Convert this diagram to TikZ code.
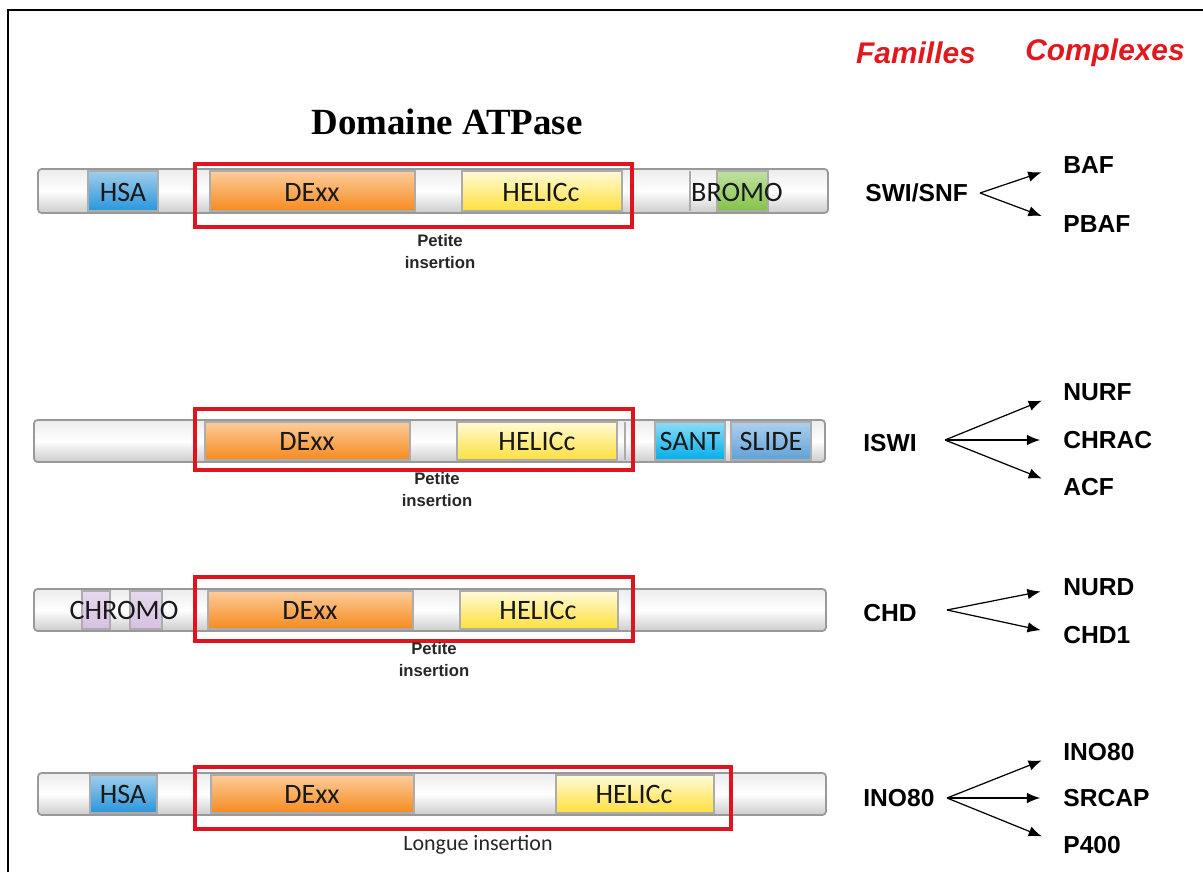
\documentclass[tikz,border=0pt]{standalone}
\usepackage{tikz}
\usepackage{fontspec}
\setmainfont{Liberation Sans}
\newfontfamily\domfont{Carlito}
\newfontfamily\titlefont{Liberation Serif}
\definecolor{boxred}{RGB}{222, 20, 30}
\definecolor{famred}{RGB}{225, 25, 30}
\definecolor{dexxorange}{RGB}{246, 138, 30}
\definecolor{dexxlight}{RGB}{252, 205, 155}
\definecolor{helicyellow}{RGB}{255, 224, 60}
\definecolor{heliclight}{RGB}{255, 250, 215}
\definecolor{hsablue}{RGB}{40, 150, 220}
\definecolor{hsalight}{RGB}{160, 205, 235}
\definecolor{bromogreen}{RGB}{130, 195, 70}
\definecolor{santcyan}{RGB}{0, 175, 235}
\definecolor{slideblue}{RGB}{95, 160, 215}
\definecolor{chromopurple}{RGB}{214, 192, 226}
\usetikzlibrary{arrows.meta,positioning}

\begin{document}
\begin{tikzpicture}[x=0.02cm, y=-0.02cm,
    bar/.style={draw=gray!80, line width=1pt, rounded corners=2pt, top color=gray!15, bottom color=gray!40, middle color=white},
    seg/.style={draw=gray!65, line width=0.6pt},
    dom/.style={font=\domfont\fontsize{16}{16}\selectfont, text=black!90, inner sep=0pt},
    redbox/.style={draw=boxred, line width=2.3pt},
    ins/.style={font=\bfseries\fontsize{9.5}{12.5}\selectfont, align=center, text=black!85},
    head/.style={font=\bfseries\itshape\fontsize{17}{17}\selectfont, text=famred},
    fam/.style={font=\bfseries\fontsize{14}{14}\selectfont, anchor=west, inner sep=0pt},
    fork/.style={-{Latex[length=7.5pt,width=6pt]}, line width=0.7pt, shorten >=13pt}]
    \useasboundingbox (0,0) rectangle (1203,872);
    \draw[line width=1.2pt] (8,872) -- (8,10) -- (1203,10);

    \node[font=\titlefont\bfseries\fontsize{21}{21}\selectfont] (title) at (447,122) {Domaine ATPase};
    \node[head] (familles) at (916,53) {Familles};
    \node[head] (complexes) at (1105,53) {Complexes};

    % SWI/SNF
    \draw[bar] (38,169) rectangle (828,213);
    \draw[seg, top color=hsalight, bottom color=hsablue] (88,171) rectangle (158,211);
    \draw[seg, top color=dexxlight, bottom color=dexxorange] (210,171) rectangle (415,211);
    \draw[seg, top color=heliclight, bottom color=helicyellow] (462,171) rectangle (622,211);
    \draw[seg, top color=bromogreen!50, bottom color=bromogreen] (717,171) rectangle (768,211);
    \draw[seg] (690,171) -- (690,211);
    \node[dom] (hsa1) at (123,192) {HSA};
    \node[dom] (dexx1) at (312,192) {DExx};
    \node[dom] (helic1) at (541,192) {HELICc};
    \node[dom] (bromo) at (737,192) {BROMO};
    \draw[redbox] (195,164) rectangle (632,227);
    \node[ins] (ins1) at (440,252) {Petite\\insertion};

    % ISWI
    \draw[bar] (34,420) rectangle (825,462);
    \draw[seg, top color=dexxlight, bottom color=dexxorange] (205,422) rectangle (410,460);
    \draw[seg, top color=heliclight, bottom color=helicyellow] (457,422) rectangle (617,460);
    \draw[seg] (625,422) -- (625,460);
    \draw[seg, top color=santcyan!45, bottom color=santcyan] (655,422) rectangle (725,460);
    \draw[seg, top color=slideblue!50, bottom color=slideblue] (731,422) rectangle (811,460);
    \node[dom] (dexx2) at (307,441) {DExx};
    \node[dom] (helic2) at (537,441) {HELICc};
    \node[dom] (sant) at (690,441) {SANT};
    \node[dom] (slide) at (771,441) {SLIDE};
    \draw[redbox] (195,409) rectangle (633,470);
    \node[ins] (ins2) at (437,490) {Petite\\insertion};

    % CHD
    \draw[bar] (34,589) rectangle (826,631);
    \draw[seg, top color=chromopurple!60, bottom color=chromopurple] (82,591) rectangle (110,629);
    \draw[seg, top color=chromopurple!60, bottom color=chromopurple] (130,591) rectangle (162,629);
    \draw[seg, top color=dexxlight, bottom color=dexxorange] (208,591) rectangle (413,629);
    \draw[seg, top color=heliclight, bottom color=helicyellow] (460,591) rectangle (618,629);
    \node[dom] (chromo) at (124,610) {CHROMO};
    \node[dom] (dexx3) at (310,610) {DExx};
    \node[dom] (helic3) at (538,610) {HELICc};
    \draw[redbox] (195,577) rectangle (633,641);
    \node[ins] (ins3) at (434,660) {Petite\\insertion};

    % INO80
    \draw[bar] (38,773) rectangle (826,815);
    \draw[seg, top color=hsalight, bottom color=hsablue] (90,775) rectangle (157,813);
    \draw[seg, top color=dexxlight, bottom color=dexxorange] (211,775) rectangle (414,813);
    \draw[seg, top color=heliclight, bottom color=helicyellow] (556,775) rectangle (714,813);
    \node[dom] (hsa4) at (123,794) {HSA};
    \node[dom] (dexx4) at (312,794) {DExx};
    \node[dom] (helic4) at (634,794) {HELICc};
    \draw[redbox] (195,767) rectangle (731,829);
    \node[font=\domfont\fontsize{12.5}{12.5}\selectfont, text=black!85] (ins4) at (478,845) {Longue insertion};

    % familles -> complexes
    \node[fam] (swi) at (865,193) {SWI/SNF};
    \coordinate (swiF) at (980,193);
    \node[fam] (baf) at (1063,165) {BAF};
    \node[fam] (pbaf) at (1063,224) {PBAF};
    \draw[fork] (swiF) -- (baf.west);
    \draw[fork] (swiF) -- (pbaf.west);

    \node[fam] (iswi) at (863,443) {ISWI};
    \coordinate (iswiF) at (945,440);
    \node[fam] (nurf) at (1063,392) {NURF};
    \node[fam] (chrac) at (1063,440) {CHRAC};
    \node[fam] (acf) at (1063,487) {ACF};
    \draw[fork] (iswiF) -- (nurf.west);
    \draw[fork] (iswiF) -- (chrac.west);
    \draw[fork] (iswiF) -- (acf.west);

    \node[fam] (chd) at (863,613) {CHD};
    \coordinate (chdF) at (947,610);
    \node[fam] (nurd) at (1063,587) {NURD};
    \node[fam] (chdone) at (1063,635) {CHD1};
    \draw[fork] (chdF) -- (nurd.west);
    \draw[fork] (chdF) -- (chdone.west);

    \node[fam] (ino) at (863,798) {INO80};
    \coordinate (inoF) at (947,798);
    \node[fam] (inoc) at (1063,752) {INO80};
    \node[fam] (srcap) at (1063,798) {SRCAP};
    \node[fam] (pfour) at (1063,845) {P400};
    \draw[fork] (inoF) -- (inoc.west);
    \draw[fork] (inoF) -- (srcap.west);
    \draw[fork] (inoF) -- (pfour.west);
\end{tikzpicture}
\end{document}
